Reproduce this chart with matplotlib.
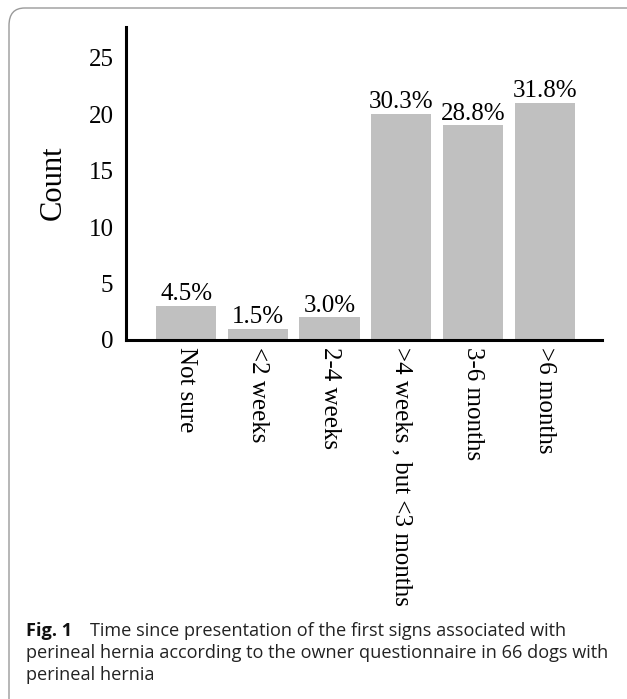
import matplotlib
matplotlib.use("Agg")
import matplotlib.pyplot as plt
from matplotlib.patches import FancyBboxPatch

categories = ["Not sure", "<2 weeks", "2-4 weeks", ">4 weeks , but <3 months", "3-6 months", ">6 months"]
counts = [3, 1, 2, 20, 19, 21]
percent_labels = ["4.5%", "1.5%", "3.0%", "30.3%", "28.8%", "31.8%"]
yticks = [0, 5, 10, 15, 20, 25]

W, H = 627, 699
fig = plt.figure(figsize=(W / 100, H / 100), dpi=100)
fig.patch.set_facecolor("white")

# rounded frame
frame = FancyBboxPatch((9 / W, -30 / H), (W + 40) / W, (H + 22) / H,
                       boxstyle="round,pad=0,rounding_size=0.025",
                       transform=fig.transFigure, facecolor="none",
                       edgecolor="#9a9a9a", linewidth=1.0)
fig.patches.append(frame)

ax = fig.add_axes([126 / W, 1 - 340 / H, (602 - 126) / W, (340 - 27) / H])
x = list(range(len(categories)))
bars = ax.bar(x, counts, width=0.84, color="#c0c0c0", edgecolor="none")
ax.set_xlim(-0.84, 5.80)
ax.set_ylim(0, 27.7)

serif = "Liberation Serif"
fs = 18
for xi, c, lab in zip(x, counts, percent_labels):
    ax.annotate(lab, (xi, c), xytext=(0, 0.5), textcoords="offset points",
                ha="center", va="bottom", fontsize=fs, family=serif)

ax.set_yticks(yticks)
ax.set_yticklabels([str(v) for v in yticks], fontsize=fs, family=serif)
ax.set_xticks(x)
ax.set_xticklabels(categories, rotation=-90, fontsize=fs, family=serif,
                   ha="center", va="top")
ax.tick_params(axis="both", length=0)
ax.tick_params(axis="y", pad=9)
ax.tick_params(axis="x", pad=5)

for s in ["top", "right"]:
    ax.spines[s].set_visible(False)
for s in ["left", "bottom"]:
    ax.spines[s].set_linewidth(2.2)
    ax.spines[s].set_color("black")

fig.text(53 / W, 1 - 183 / H, "Count", rotation=90, ha="center", va="center",
         fontsize=22, family=serif)

# caption
cap_font = "Open Sans"
cap_size = 13.1
fig.text(26 / W, 1 - 636 / H, "Fig. 1", fontsize=cap_size, family=cap_font,
         fontweight="bold", va="baseline", ha="left", color="#111111")
fig.text(90 / W, 1 - 636 / H, "Time since presentation of the first signs associated with",
         fontsize=cap_size, family=cap_font, va="baseline", ha="left", color="#222222")
fig.text(26 / W, 1 - 658 / H,
         "perineal hernia according to the owner questionnaire in 66 dogs with",
         fontsize=cap_size, family=cap_font, va="baseline", ha="left", color="#222222")
fig.text(26 / W, 1 - 680 / H, "perineal hernia",
         fontsize=cap_size, family=cap_font, va="baseline", ha="left", color="#222222")

fig.savefig("out.png", dpi=100)
